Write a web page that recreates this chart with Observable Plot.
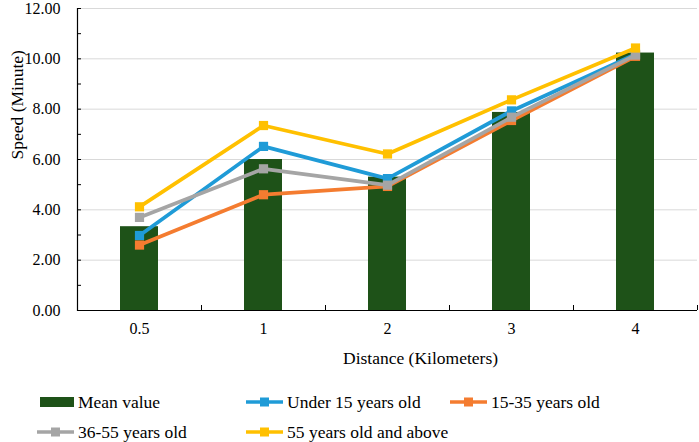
<!DOCTYPE html>
<html><head><meta charset="utf-8">
<script src="https://cdn.jsdelivr.net/npm/d3@7"></script>
<script src="https://cdn.jsdelivr.net/npm/@observablehq/plot@0.6"></script>
<style>
body{margin:0;background:#fff;font-family:"Liberation Serif","Times New Roman",serif;}
#chart{width:699px;height:442px;position:relative;overflow:hidden;background:#fff}
#legend{position:absolute;left:0;top:370px;width:699px;height:72px;font-size:17.5px;color:#000}
.item{position:absolute;display:flex;align-items:center;height:30px;white-space:nowrap}
.item svg{margin-right:4px;display:block}
</style></head><body><div id="chart"></div><script>
const distances = ["0.5", "1", "2", "3", "4"];
const meanValue = [3.33, 6.00, 5.30, 7.87, 10.23];
const under15 = [2.98, 6.52, 5.24, 7.93, 10.18];
const age15to35 = [2.60, 4.60, 4.93, 7.55, 10.10];
const age36to55 = [3.70, 5.63, 4.98, 7.68, 10.15];
const age55plus = [4.12, 7.35, 6.22, 8.37, 10.43];
const barName = "Mean value";
const barColor = "#1e5218";
const seriesNames = ["Under 15 years old", "15-35 years old", "36-55 years old", "55 years old and above"];
const seriesValues = [under15, age15to35, age36to55, age55plus];
const seriesColors = ["#1f9bd7", "#f47c30", "#a5a5a5", "#ffc000"];
const yMajorTicks = [0, 2, 4, 6, 8, 10, 12];
const yMinorTicks = [0, 1, 2, 3, 4, 5, 6, 7, 8, 9, 10, 11, 12];
const xTitle = "Distance (Kilometers)";
const yTitle = "Speed (Minute)";

const W = 699, H = 370, mL = 77, mR = 2, mT = 8, mB = 60;
const halfBand = (W - mL - mR) / distances.length / 2;

const bars = distances.map((d, i) => ({distance: d, value: meanValue[i]}));
const long = seriesNames.flatMap((s, k) => distances.map((d, i) => ({series: s, distance: d, value: seriesValues[k][i]})));

const marks = [
  Plot.gridY(yMajorTicks.filter(t => t > 0), {stroke: "#d9d9d9", strokeOpacity: 1, strokeWidth: 1}),
  Plot.barY(bars, {x: "distance", y: "value", fill: barColor, insetLeft: 43, insetRight: 43}),
];
seriesNames.forEach(s => {
  const data = long.filter(d => d.series === s);
  marks.push(Plot.line(data, {x: "distance", y: "value", stroke: "series", strokeWidth: 3.75}));
  marks.push(Plot.dot(data, {x: "distance", y: "value", fill: "series", symbol: "square", r: 5.2}));
});
marks.push(
  Plot.ruleY([0], {stroke: "#000", strokeWidth: 1.2}),
  Plot.frame({anchor: "left", stroke: "#000", strokeWidth: 1.2}),
  Plot.axisY({ticks: yMajorTicks, tickSize: 0, tickPadding: 17, tickFormat: d3.format(".2f"), fontSize: 16, fill: "#000", label: null}),
  Plot.axisY({ticks: yMinorTicks, tickSize: -4, tickFormat: () => "", label: null, stroke: "#000"}),
  Plot.axisX({tickSize: 0, tickPadding: 12, fontSize: 16, fill: "#000", label: null}),
  Plot.axisX({tickSize: -5, tickFormat: () => "", dx: halfBand, label: null, stroke: "#000"}),
  Plot.text([xTitle], {frameAnchor: "bottom", dy: 53, dx: 33, fontSize: 17.5, fill: "#000"}),
  Plot.text([yTitle], {frameAnchor: "left", rotate: -90, dx: -60, fontSize: 17.5, fill: "#000"})
);

const chart = Plot.plot({
  width: W, height: H,
  marginLeft: mL, marginRight: mR, marginTop: mT, marginBottom: mB,
  style: {fontFamily: '"Liberation Serif","Times New Roman",serif', background: "#fff", overflow: "visible"},
  x: {type: "band", domain: distances, padding: 0, axis: null},
  y: {domain: [0, 12], axis: null},
  color: {domain: seriesNames, range: seriesColors},
  marks
});
const root = document.getElementById("chart");
root.appendChild(chart);

const legend = document.createElement("div");
legend.id = "legend";
root.appendChild(legend);
const items = [
  {name: barName, color: barColor, bar: true, left: 40, top: 17},
  {name: seriesNames[0], color: seriesColors[0], left: 246, top: 17},
  {name: seriesNames[1], color: seriesColors[1], left: 450, top: 17},
  {name: seriesNames[2], color: seriesColors[2], left: 37, top: 47},
  {name: seriesNames[3], color: seriesColors[3], left: 246, top: 47}
];
items.forEach(it => {
  const div = document.createElement("div");
  div.className = "item";
  div.style.left = it.left + "px";
  div.style.top = it.top + "px";
  const sw = it.bar
    ? `<svg width="34" height="12"><rect x="0" y="1" width="34" height="10" fill="${it.color}"/></svg>`
    : `<svg width="37" height="12"><line x1="0" x2="37" y1="6" y2="6" stroke="${it.color}" stroke-width="3.5"/><rect x="14" y="1.5" width="9" height="9" fill="${it.color}"/></svg>`;
  div.innerHTML = sw + `<span>${it.name}</span>`;
  legend.appendChild(div);
});
</script></body></html>
